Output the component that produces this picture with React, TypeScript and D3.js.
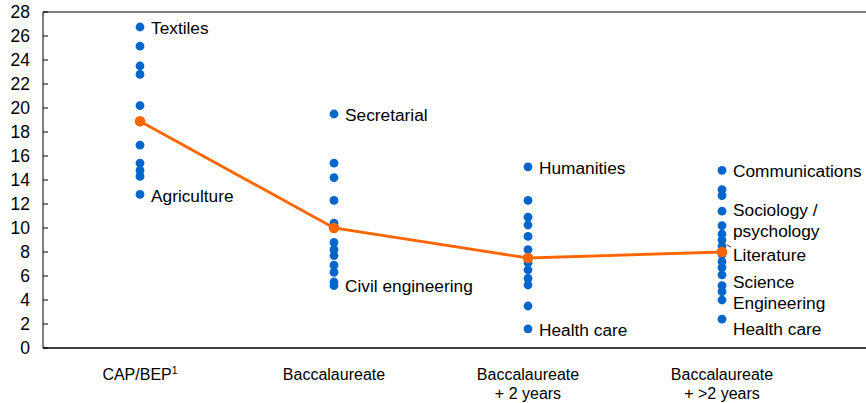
import React from 'react';
import * as d3 from 'd3';

// categories on the x axis
const categories = ['CAP/BEP', 'Baccalaureate', 'Baccalaureate + 2 years', 'Baccalaureate + >2 years'];
const categoryLines = [['CAP/BEP'], ['Baccalaureate'], ['Baccalaureate', '+ 2 years'], ['Baccalaureate', '+ >2 years']];

// average per level (orange line)
const averages = [18.9, 10.0, 7.5, 8.0];

// individual fields (blue dots)
const capBep = [26.75, 25.15, 23.5, 22.8, 20.2, 16.9, 15.4, 14.8, 14.3, 12.8];
const bac = [19.5, 15.4, 14.2, 12.3, 10.4, 8.8, 8.2, 7.7, 6.9, 6.3, 5.5, 5.2];
const bac2 = [15.1, 12.3, 10.9, 10.25, 9.3, 8.2, 7.1, 6.5, 5.8, 5.25, 3.5, 1.6];
const bacMore = [14.8, 13.2, 12.7, 11.4, 10.2, 9.5, 9.0, 8.5, 7.8, 7.2, 6.7, 6.1, 5.2, 4.7, 4.0, 2.4];
const fields = [capBep, bac, bac2, bacMore];

// annotations next to the dots
const labelCat = [0, 0, 1, 1, 2, 2, 3, 3, 3, 3, 3, 3, 3];
const labelText = ['Textiles', 'Agriculture', 'Secretarial', 'Civil engineering', 'Humanities', 'Health care',
  'Communications', 'Sociology /', 'psychology', 'Literature', 'Science', 'Engineering', 'Health care'];
const labelValue = [26.7, 12.7, 19.4, 5.15, 15.05, 1.5, 14.75, 11.55, 9.8, 7.8, 5.55, 3.75, 1.6];

const yTicks = d3.range(0, 29, 2);

const W = 866;
const H = 403;
const FONT = '"Liberation Sans", Arial, sans-serif';

export default function App() {
  const left = 43;
  const top = 12;
  const bottom = 348;

  const x = d3.scaleBand<string>().domain(categories).range([left, left + 4 * 194]).padding(0);
  const cx = (i: number) => (x(categories[i]) as number) + x.bandwidth() / 2;
  const y = d3.scaleLinear().domain([0, 28]).range([bottom, top]);

  const line = d3.line<number>()
    .x((d, i) => cx(i))
    .y(d => y(d));

  return (
    <div style={{ position: 'absolute', left: 0, top: 0 }}>
      <svg width={W} height={H} style={{ display: 'block' }} fontFamily={FONT}>
        <rect width={W} height={H} fill="#fff" />
        {/* frame */}
        <line x1={left} x2={W} y1={top} y2={top} stroke="#555" strokeWidth={1.5} />
        <line x1={left} x2={W} y1={bottom} y2={bottom} stroke="#000" strokeWidth={1.5} />
        <line x1={left} x2={left} y1={top} y2={bottom} stroke="#000" strokeWidth={1} />
        {yTicks.map(t => (
          <g key={t}>
            <line x1={left} x2={left + 5} y1={y(t)} y2={y(t)} stroke="#000" strokeWidth={1} />
            <text x={30} y={y(t)} dy="0.36em" textAnchor="end" fontSize={17.5} fill="#000">{t}</text>
          </g>
        ))}

        {/* category labels */}
        {categoryLines.map((lines, i) => (
          <text key={i} x={cx(i)} y={380} textAnchor="middle" fontSize={16} fill="#000">
            {lines.map((l, j) => (
              <tspan key={j} x={cx(i)} dy={j === 0 ? 0 : 18.5}>
                {l}
                {i === 0 && <tspan dy={-6} fontSize={10.5}>1</tspan>}
              </tspan>
            ))}
          </text>
        ))}

        {/* dots */}
        {fields.map((vals, i) => vals.map((v, j) => (
          <circle key={i + '-' + j} cx={cx(i)} cy={y(v)} r={4.4} fill="#0066CC" />
        )))}

        {/* average line */}
        <path d={line(averages) || ''} fill="none" stroke="#FF6600" strokeWidth={2.8} />
        {averages.map((v, i) => (
          <circle key={i} cx={cx(i)} cy={y(v)} r={5.3} fill="#FF6600" />
        ))}

        {/* field labels */}
        {labelText.map((t, i) => (
          <text key={i} x={cx(labelCat[i]) + 11} y={y(labelValue[i])} dy="0.36em" fontSize={17.3} fill="#000">{t}</text>
        ))}
        <line x1={cx(3) + 5} x2={cx(3) + 9} y1={y(8.6)} y2={y(8.4)} stroke="#333" strokeWidth={1} />
      </svg>
    </div>
  );
}
